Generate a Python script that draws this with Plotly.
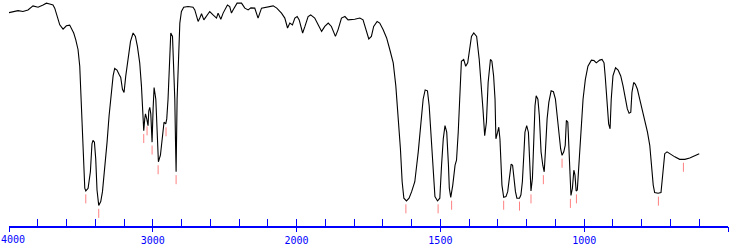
import plotly.graph_objects as go

# IR spectrum: wavenumber (cm-1) and transmittance (%)
wavenumber = [
    4000, 3972, 3937, 3903, 3868, 3833, 3798, 3763, 3740, 3717, 3694, 3682, 3670, 3659, 3647,
    3624, 3601, 3578, 3566, 3550, 3536, 3520, 3508, 3499, 3492, 3485, 3480, 3473, 3466, 3450,
    3434, 3423, 3416, 3406, 3397, 3388, 3376, 3362, 3350, 3334, 3318, 3304, 3288, 3276, 3265,
    3249, 3235, 3223, 3211, 3200, 3188, 3172, 3155, 3137, 3121, 3107, 3091, 3079, 3068, 3063,
    3056, 3051, 3042, 3033, 3028, 3021, 3014, 3005, 2998, 2991, 2979, 2970, 2961, 2947, 2936,
    2922, 2910, 2903, 2894, 2882, 2875, 2863, 2854, 2847, 2842, 2838, 2831, 2821, 2812, 2801,
    2785, 2755, 2720, 2708, 2696, 2685, 2673, 2661, 2645, 2627, 2604, 2581, 2557, 2546, 2527,
    2511, 2481, 2465, 2453, 2442, 2414, 2383, 2360, 2337, 2318, 2291, 2268, 2244, 2209, 2163,
    2138, 2105, 2082, 2063, 2047, 2029, 2012, 1998, 1991, 1979, 1971, 1960, 1951, 1937, 1925,
    1913, 1902, 1890, 1879, 1865, 1856, 1844, 1832, 1821, 1798, 1780, 1769, 1759, 1749, 1740,
    1732, 1720, 1711, 1699, 1687, 1676, 1664, 1655, 1647, 1639, 1633, 1627, 1618, 1609, 1600,
    1589, 1577, 1569, 1560, 1553, 1545, 1539, 1531, 1525, 1519, 1510, 1502, 1496, 1490, 1484,
    1478, 1472, 1469, 1464, 1457, 1449, 1444, 1438, 1432, 1427, 1419, 1412, 1405, 1398, 1392,
    1384, 1374, 1365, 1357, 1352, 1346, 1340, 1334, 1332, 1326, 1321, 1315, 1310, 1307, 1301,
    1297, 1293, 1290, 1286, 1280, 1272, 1266, 1260, 1254, 1249, 1245, 1239, 1234, 1225, 1220,
    1215, 1210, 1206, 1200, 1194, 1190, 1187, 1185, 1180, 1175, 1171, 1167, 1161, 1156, 1150,
    1144, 1139, 1135, 1129, 1123, 1115, 1107, 1100, 1094, 1088, 1082, 1077, 1071, 1066, 1062,
    1057, 1053, 1050, 1046, 1041, 1036, 1032, 1028, 1024, 1018, 1012, 1004, 996, 987, 975,
    966, 958, 946, 938, 931, 927, 921, 915, 910, 906, 900, 891, 882, 873, 865,
    857, 850, 844, 838, 834, 828, 822, 815, 807, 799, 789, 780, 772, 766, 760,
    755, 743, 733, 726, 720, 712, 703, 685, 668, 650, 633, 615, 600,
]
transmittance = [
    94.4, 94.9, 95.3, 94.9, 95.6, 97.4, 96.8, 97.8, 98.6, 98.2, 97.8, 96.4, 94.2, 91.2, 89.0,
    87.1, 88.6, 88.9, 87.6, 85.4, 82.5, 78.1, 70.7, 56.1, 43.0, 31.3, 21.1, 16.7, 15.5, 16.7,
    24.0, 36.4, 37.9, 37.1, 29.8, 15.9, 9.1, 10.8, 15.2, 25.4, 37.1, 48.8, 60.5, 66.4, 69.7,
    69.0, 67.1, 65.7, 60.5, 59.1, 66.4, 74.4, 81.7, 85.4, 83.9, 79.5, 72.2, 62.0, 50.3, 42.2,
    47.4, 49.6, 47.4, 44.4, 50.9, 52.5, 49.6, 37.1, 51.8, 61.3, 56.1, 41.5, 28.4, 31.3, 37.1,
    45.9, 45.2, 47.4, 56.1, 70.7, 85.4, 83.9, 70.7, 56.1, 37.1, 24.0, 56.1, 78.1, 89.8, 94.9,
    96.8, 97.1, 96.8, 95.6, 93.4, 90.5, 92.0, 93.9, 91.2, 92.7, 94.9, 93.4, 92.0, 94.2, 91.5,
    94.2, 97.8, 97.1, 94.2, 95.6, 98.6, 98.6, 96.4, 95.6, 96.5, 96.4, 92.0, 96.4, 96.9, 97.4,
    96.4, 94.2, 92.0, 87.6, 89.8, 89.0, 92.0, 92.7, 91.2, 85.4, 88.3, 92.7, 93.4, 92.0, 89.0,
    86.1, 88.3, 89.8, 88.3, 83.9, 86.8, 92.0, 92.7, 91.2, 91.5, 92.0, 91.2, 86.8, 82.8, 83.9,
    88.3, 90.5, 89.8, 86.8, 83.2, 78.1, 72.2, 62.0, 48.8, 34.2, 19.6, 12.3, 11.1, 12.3, 15.2,
    19.6, 32.8, 44.4, 56.1, 60.2, 59.8, 53.2, 38.6, 24.0, 13.0, 11.1, 12.3, 26.9, 38.6, 44.4,
    41.5, 26.9, 16.7, 12.7, 18.1, 26.9, 29.1, 41.5, 63.5, 72.9, 73.7, 70.7, 72.2, 78.1, 83.9,
    85.4, 83.9, 73.7, 62.0, 51.8, 40.0, 45.9, 63.5, 66.4, 73.7, 72.9, 66.4, 56.1, 38.6, 41.5,
    43.7, 38.6, 29.8, 18.1, 12.7, 13.0, 15.2, 22.6, 27.4, 26.9, 21.1, 15.2, 12.3, 12.3, 13.8,
    19.6, 31.3, 41.5, 44.4, 41.5, 29.8, 19.6, 15.5, 21.1, 41.5, 53.2, 57.6, 56.1, 48.8, 32.8,
    26.9, 24.0, 32.8, 47.4, 54.7, 59.8, 59.4, 56.1, 48.8, 41.5, 34.2, 31.3, 32.8, 35.7, 46.7,
    45.9, 34.2, 19.6, 13.5, 16.7, 24.7, 22.5, 15.5, 15.9, 26.9, 41.5, 56.1, 64.9, 70.7, 73.4,
    73.2, 72.2, 73.4, 73.7, 72.2, 66.4, 56.1, 45.2, 43.0, 56.1, 66.4, 70.0, 69.0, 66.4, 62.0,
    56.1, 51.8, 49.9, 50.4, 59.1, 63.5, 62.7, 60.5, 56.1, 51.8, 45.9, 41.5, 35.7, 26.9, 18.1,
    14.8, 14.5, 14.8, 25.4, 32.0, 32.8, 32.0, 30.6, 29.5, 29.5, 30.1, 31.3, 32.0,
]

# Peak positions (cm-1) and transmittance at each labelled peak
peak_wavenumber = [3466, 3376, 3063, 3040, 3005, 2963, 2908, 2838, 1620, 1508,
                   1461, 1280, 1225, 1185, 1142, 1077, 1048, 1027, 742, 655]
peak_transmittance = [15.5, 9.1, 42.2, 45.6, 37.1, 28.4, 45.2, 24.0, 11.1, 11.1,
                      12.7, 12.7, 12.3, 15.5, 24.0, 31.3, 13.5, 15.5, 14.5, 29.5]

# Axis labels
label_wavenumbers = [4000, 3000, 2000, 1500, 1000]
label_text = ["4000", "3000", "2000", "1500", "1000"]
axis_end = 500


def to_u(w):
    """Piecewise axis: 4000-2000 at half scale, 2000-500 at full scale."""
    return (4000 - w) / 2 if w >= 2000 else 1000 + (2000 - w)


xs = [to_u(w) for w in wavenumber]

px, py = [], []
for w, t in zip(peak_wavenumber, peak_transmittance):
    u = to_u(w)
    px += [u, u, None]
    py += [t - 1.5, t - 5.5, None]

fig = go.Figure()
fig.add_trace(go.Scatter(x=px, y=py, mode="lines",
                         line=dict(color="#ff8080", width=1),
                         hoverinfo="skip", showlegend=False))
fig.add_trace(go.Scatter(x=xs, y=transmittance, mode="lines",
                         line=dict(color="black", width=1.1),
                         showlegend=False))
# invisible trace to activate second x axis
fig.add_trace(go.Scatter(x=[0], y=[50], xaxis="x2", mode="markers",
                         marker=dict(opacity=0), hoverinfo="skip", showlegend=False))

u_end = to_u(axis_end)
minor_vals = list(range(0, int(u_end) + 1, 100))
major_vals = [to_u(w) for w in label_wavenumbers] + [u_end]
tick_font = dict(family="DejaVu Sans Mono", size=10, color="#0000ff")

fig.update_layout(
    width=738, height=246,
    margin=dict(l=9, r=10, t=0, b=18),
    paper_bgcolor="white", plot_bgcolor="white",
    xaxis=dict(range=[0, u_end], showgrid=False, zeroline=False,
               showline=True, linecolor="#0000ff", linewidth=2,
               tickmode="array", tickvals=minor_vals,
               ticktext=[""] * len(minor_vals),
               ticks="inside", ticklen=7, tickwidth=1, tickcolor="#0000ff",
               showticklabels=False),
    xaxis2=dict(range=[0, u_end], overlaying="x", anchor="y", side="bottom",
                showgrid=False, zeroline=False, showline=False,
                tickmode="array", tickvals=major_vals,
                ticktext=[""] + label_text[1:] + [""],
                ticks="outside", ticklen=5, tickwidth=1, tickcolor="#0000ff",
                tickfont=tick_font),
    yaxis=dict(range=[0, 100], visible=False, showgrid=False, zeroline=False),
    annotations=[dict(text=label_text[0], x=to_u(label_wavenumbers[0]), xref="x",
                      y=0, yref="paper", xanchor="left", yanchor="top",
                      xshift=-10, yshift=-6, showarrow=False, font=tick_font)],
)

fig.write_html("out.html")
